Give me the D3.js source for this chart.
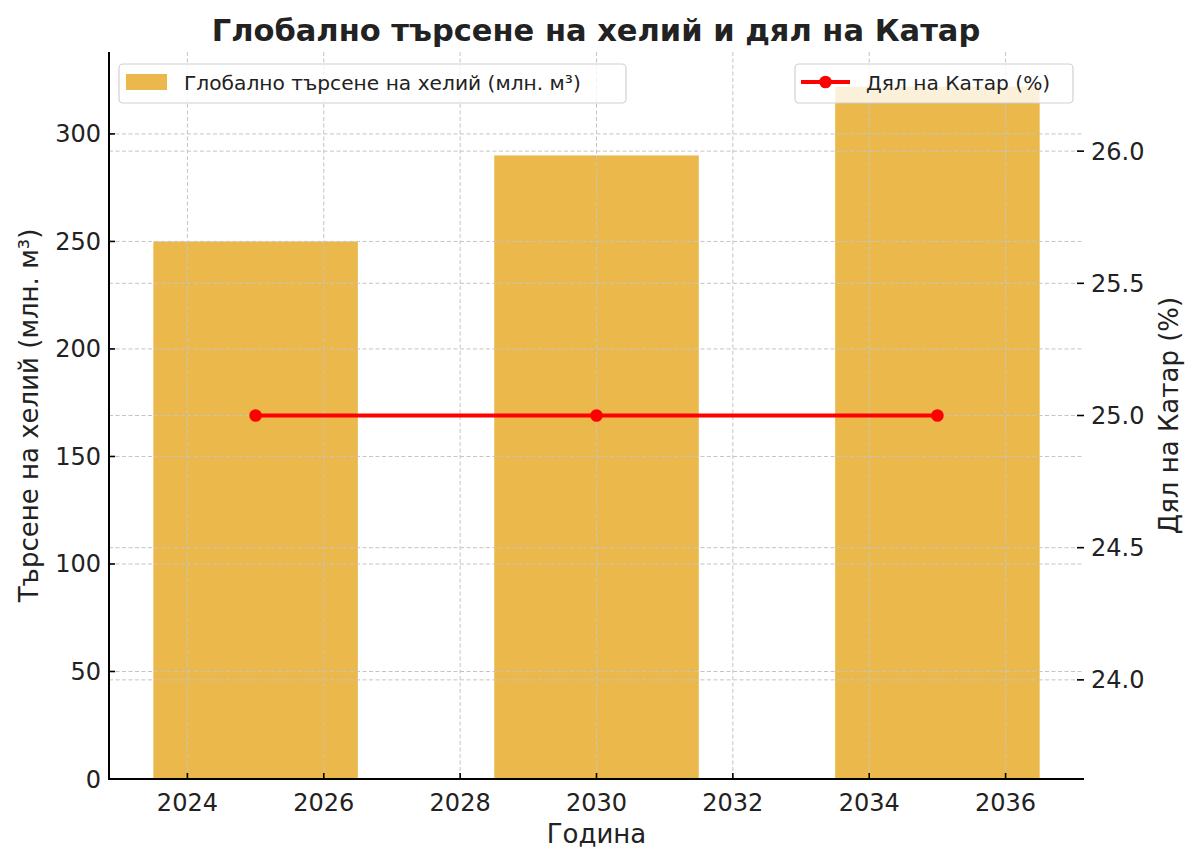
<!DOCTYPE html>
<html><head><meta charset="utf-8">
<script src="https://cdn.jsdelivr.net/npm/d3@7"></script>
<style>body{margin:0;background:#fff}svg{display:block}text{font-family:"DejaVu Sans",sans-serif;fill:#222}</style>
</head><body><svg id="c" width="1200" height="863"></svg>
<script>
const years = [2025, 2030, 2035];
const demand = [250, 290, 322];
const qatarShare = [25, 25, 25];
const xTicks = [2024, 2026, 2028, 2030, 2032, 2034, 2036];
const leftTicks = [0, 50, 100, 150, 200, 250, 300];
const rightTicks = [24.0, 24.5, 25.0, 25.5, 26.0];
const title = "Глобално търсене на хелий и дял на Катар";
const xLabel = "Година";
const yLeftLabel = "Търсене на хелий (млн. м³)";
const yRightLabel = "Дял на Катар (%)";
const barLegend = "Глобално търсене на хелий (млн. м³)";
const lineLegend = "Дял на Катар (%)";

const L = 109, R = 1084, T = 52, B = 779;
const barColor = "#ebb94b", gridColor = "#c4c4c4";
const svg = d3.select("#c");
const x = d3.scaleLinear().domain([2022.85, 2037.15]).range([L, R]);
const yL = d3.scaleLinear().domain([0, 322 * 1.05]).range([B, T]);
const yR = d3.scaleLinear().domain([23.625, 26.375]).range([B, T]);
const barW = 3;

// bars
svg.append("g").selectAll("rect").data(years).join("rect")
  .attr("x", (d) => x(d - barW / 2)).attr("width", (d) => x(d + barW / 2) - x(d - barW / 2))
  .attr("y", (d, i) => yL(demand[i])).attr("height", (d, i) => B - yL(demand[i]))
  .attr("fill", barColor);

// grids
const g = svg.append("g").attr("stroke", gridColor).attr("stroke-width", 1).attr("stroke-dasharray", "4,2.5");
g.selectAll(".gx").data(xTicks).join("line").attr("x1", d => x(d)).attr("x2", d => x(d)).attr("y1", T).attr("y2", B);
g.selectAll(".gl").data(leftTicks).join("line").attr("x1", L).attr("x2", R).attr("y1", d => yL(d)).attr("y2", d => yL(d));

// left legend (on ax1)
const lg = svg.append("g");
lg.append("rect").attr("x", 119).attr("y", 64).attr("width", 507).attr("height", 39).attr("rx", 4)
  .attr("fill", "#fff").attr("fill-opacity", 0.8).attr("stroke", "#d0d0d0").attr("stroke-width", 1.2);
lg.append("rect").attr("x", 126).attr("y", 74).attr("width", 41).attr("height", 16).attr("fill", barColor);
lg.append("text").attr("x", 184).attr("y", 90).attr("font-size", 20.2).attr("fill", "#333").text(barLegend);

// right axis grid
g.selectAll(".gr").data(rightTicks).join("line").attr("x1", L).attr("x2", R).attr("y1", d => yR(d)).attr("y2", d => yR(d));

// line
svg.append("path").datum(years).attr("fill", "none").attr("stroke", "#ff0000").attr("stroke-width", 3.8)
  .attr("d", d3.line().x(d => x(d)).y((d, i) => yR(qatarShare[i])));
svg.append("g").selectAll("circle").data(years).join("circle")
  .attr("cx", d => x(d)).attr("cy", (d, i) => yR(qatarShare[i])).attr("r", 6.3).attr("fill", "#ff0000");

// right legend
const rg = svg.append("g");
rg.append("rect").attr("x", 795).attr("y", 64).attr("width", 278).attr("height", 39).attr("rx", 4)
  .attr("fill", "#fff").attr("fill-opacity", 0.8).attr("stroke", "#d0d0d0").attr("stroke-width", 1.2);
rg.append("line").attr("x1", 801).attr("x2", 850).attr("y1", 82).attr("y2", 82).attr("stroke", "#ff0000").attr("stroke-width", 3.8);
rg.append("circle").attr("cx", 825.5).attr("cy", 82).attr("r", 6.3).attr("fill", "#ff0000");
rg.append("text").attr("x", 866).attr("y", 90).attr("font-size", 20.2).attr("fill", "#333").text(lineLegend);

// spines
svg.append("line").attr("x1", L).attr("x2", L).attr("y1", T).attr("y2", B).attr("stroke", "#000").attr("stroke-width", 2);
svg.append("line").attr("x1", L - 1).attr("x2", R).attr("y1", B).attr("y2", B).attr("stroke", "#000").attr("stroke-width", 2);

// ticks
const tk = svg.append("g").attr("stroke", "#000").attr("stroke-width", 1.6);
tk.selectAll(".tx").data(xTicks).join("line").attr("x1", d => x(d)).attr("x2", d => x(d)).attr("y1", B).attr("y2", B - 6);
tk.selectAll(".tl").data(leftTicks).join("line").attr("x1", L).attr("x2", L + 6).attr("y1", d => yL(d)).attr("y2", d => yL(d));
tk.selectAll(".tr").data(rightTicks).join("line").attr("x1", R - 7).attr("x2", R).attr("y1", d => yR(d)).attr("y2", d => yR(d));

const fs = 24, lfs = 26;
svg.append("g").selectAll("text").data(xTicks).join("text")
  .attr("x", d => x(d)).attr("y", B + 32).attr("text-anchor", "middle").attr("font-size", fs).text(d => d);
svg.append("g").selectAll("text").data(leftTicks).join("text")
  .attr("x", L - 8).attr("y", d => yL(d) + 8.5).attr("text-anchor", "end").attr("font-size", fs).text(d => d);
svg.append("g").selectAll("text").data(rightTicks).join("text")
  .attr("x", R + 7).attr("y", d => yR(d) + 8.5).attr("text-anchor", "start").attr("font-size", fs).text(d => d.toFixed(1));

svg.append("text").attr("x", (L + R) / 2).attr("y", 843).attr("text-anchor", "middle").attr("font-size", lfs).text(xLabel);
svg.append("text").attr("transform", `translate(38,${(T + B) / 2}) rotate(-90)`).attr("text-anchor", "middle").attr("font-size", lfs).text(yLeftLabel);
svg.append("text").attr("transform", `translate(1178,${(T + B) / 2}) rotate(-90)`).attr("text-anchor", "middle").attr("font-size", lfs).text(yRightLabel);
svg.append("text").attr("x", 596).attr("y", 41).attr("text-anchor", "middle").attr("font-size", 30.5).attr("font-weight", "bold").attr("fill", "#333").text(title);
</script></body></html>
